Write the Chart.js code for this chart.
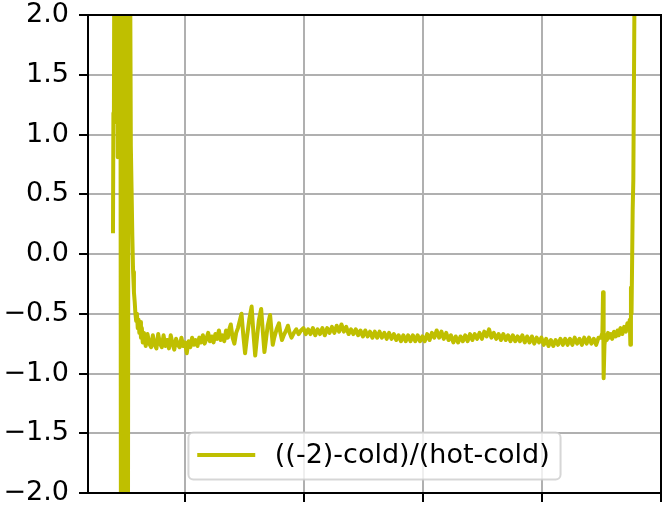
<!DOCTYPE html>
<html>
<head>
<meta charset="utf-8">
<script src="https://cdn.jsdelivr.net/npm/chart.js@4/dist/chart.umd.min.js"></script>
<style>
html,body{margin:0;padding:0;background:#fff;}
canvas{display:block;}
</style>
</head>
<body>
<canvas id="c" width="664" height="508"></canvas>
<script>
const seriesLabel = "((-2)-cold)/(hot-cold)";
const xTickValues = [200, 400, 600, 800, 1000];
const yTickStep = 0.5;

const sampleX = [
  79.0, 79.7, 80.5, 81.3, 82.6, 83.8, 85.0, 86.0, 86.8, 87.3,
  88.0, 88.8, 90.1, 91.4, 92.4, 93.4, 94.5, 95.5, 96.5, 97.5,
  98.5, 99.5, 100.2, 101.2, 102.2, 103.2, 104.2, 105.2, 106.2, 107.4,
  109.0, 110.2, 111.5, 112.8, 114.2, 115.5, 116.7, 118.0, 119.3, 120.6,
  122.0, 123.3, 124.6, 126.0, 127.5, 129.0, 131.0,
  134, 137, 140, 143, 146, 149, 152, 155, 158, 161,
  164, 167, 170, 173, 176, 179, 182, 185, 188, 191,
  194, 197, 200, 203, 206, 209, 212, 215, 218, 221,
  224, 227, 230, 233, 236, 239, 242, 245, 248, 251,
  254, 257, 260, 263, 266, 269, 272, 275, 277, 280,
  283, 286, 289, 292, 295, 298, 301, 304, 308, 312,
  315, 318, 321, 324, 328, 331, 333.5, 336, 339, 343,
  345, 347.5, 350, 354, 358, 360, 363, 366, 370, 373,
  376, 379, 383, 387, 391, 395,
  399, 403, 407, 411, 415, 419, 423, 427, 431, 435,
  439, 443, 447, 451, 455, 459, 463, 467, 471, 475,
  479, 483, 487, 491, 495, 499, 503, 507, 511, 515,
  519, 523, 527, 531, 535, 539, 543, 547, 551, 555,
  559, 563, 567, 571, 575, 579, 583, 587, 591, 595,
  599, 603, 607, 611, 615, 619, 623, 627, 631, 635,
  639, 643, 647, 651, 655, 659, 663, 667, 671, 675,
  679, 683, 687, 691, 695, 699, 703, 707, 711, 715,
  719, 723, 727, 731, 735, 739, 743, 747, 751, 755,
  759, 763, 767, 771, 775, 779, 783, 787, 791, 795,
  799, 803, 807, 811, 815, 819, 823, 827, 831, 835,
  839, 843, 847, 851, 855, 859, 863, 867, 871, 875,
  879, 883, 887, 891, 895, 899,
  901.5, 902.6, 903.6, 905, 907, 909, 911, 913, 916, 918,
  921, 924, 927, 929, 932, 935, 938, 941, 943.5, 946,
  947.5, 948.5, 949.5, 950.5, 952.4, 953.5, 955.0, 956.5
];

const ratioValues = [
  0.19, 1.18, 1.10, 2.7, 1.35, 2.8, 1.32, 2.8, 1.27, 0.81,
  1.27, 2.9, 1.3, 2.9, -2.8, 2.9, -1.8, 2.9, -2.9, 2.8,
  -2.6, 2.9, -1.3, 2.9, -2.9, 2.7, -2.2, 2.9, 1.0, 2.9,
  0.9, 0.55, 0.15, -0.15, -0.32, -0.40, -0.50, -0.56, -0.50, -0.62,
  -0.55, -0.66, -0.57, -0.70, -0.62, -0.74, -0.66,
  -0.77, -0.67, -0.75, -0.78, -0.68, -0.76, -0.79, -0.67, -0.75, -0.78,
  -0.68, -0.77, -0.72, -0.79, -0.68, -0.75, -0.80, -0.71, -0.76, -0.78,
  -0.70, -0.77, -0.74, -0.83, -0.73, -0.78, -0.70, -0.76, -0.72, -0.77,
  -0.70, -0.74, -0.68, -0.75, -0.71, -0.66, -0.73, -0.69, -0.74, -0.67,
  -0.71, -0.64, -0.72, -0.68, -0.73, -0.64, -0.70, -0.62, -0.59, -0.70,
  -0.75, -0.66, -0.62, -0.56, -0.50, -0.68, -0.83, -0.70, -0.55, -0.44,
  -0.66, -0.85, -0.70, -0.56, -0.46, -0.66, -0.82, -0.72, -0.60, -0.51,
  -0.62, -0.76, -0.70, -0.63, -0.58, -0.65, -0.72, -0.68, -0.64, -0.60,
  -0.66, -0.70, -0.66, -0.63, -0.67, -0.64,
  -0.62, -0.67, -0.63, -0.67, -0.62, -0.68, -0.63, -0.67, -0.62, -0.68,
  -0.62, -0.66, -0.61, -0.66, -0.60, -0.65, -0.59, -0.65, -0.61, -0.67,
  -0.63, -0.67, -0.63, -0.68, -0.64, -0.69, -0.64, -0.69, -0.65, -0.70,
  -0.65, -0.70, -0.65, -0.70, -0.66, -0.71, -0.66, -0.71, -0.67, -0.72,
  -0.68, -0.73, -0.68, -0.73, -0.68, -0.73, -0.68, -0.73, -0.68, -0.73,
  -0.69, -0.73, -0.67, -0.72, -0.66, -0.70, -0.64, -0.70, -0.65, -0.71,
  -0.66, -0.72, -0.68, -0.74, -0.69, -0.74, -0.69, -0.73, -0.68, -0.73,
  -0.67, -0.72, -0.67, -0.71, -0.66, -0.71, -0.65, -0.69, -0.63, -0.70,
  -0.66, -0.71, -0.67, -0.72, -0.67, -0.72, -0.68, -0.73, -0.68, -0.73,
  -0.69, -0.73, -0.68, -0.74, -0.69, -0.74, -0.69, -0.75, -0.70, -0.74,
  -0.70, -0.76, -0.71, -0.77, -0.72, -0.77, -0.72, -0.76, -0.71, -0.76,
  -0.71, -0.76, -0.71, -0.76, -0.70, -0.75, -0.71, -0.76, -0.70, -0.75,
  -0.70, -0.75, -0.71, -0.76, -0.70, -0.70,
  -0.66, -0.32, -1.04, -0.76, -0.68, -0.72, -0.66, -0.70, -0.67, -0.71,
  -0.65, -0.69, -0.64, -0.68, -0.62, -0.67, -0.61, -0.65, -0.58, -0.62,
  -0.55, -0.76, -0.28, -0.50, 0.37, 0.62, 1.8, 3.0
];

const FONT = "'DejaVu Sans', sans-serif";
const FONT_SIZE = 27;
const LINE_COLOR = '#bfbf00';

const framePlugin = {
  id: 'frame',
  afterDatasetsDraw(chart) {
    const a = chart.chartArea, ctx = chart.ctx;
    ctx.save();
    ctx.strokeStyle = '#000';
    ctx.lineWidth = 2;
    ctx.strokeRect(a.left, a.top, a.right - a.left, a.bottom - a.top);
    ctx.restore();
  }
};

const legendPlugin = {
  id: 'mplLegend',
  afterDraw(chart) {
    const a = chart.chartArea, ctx = chart.ctx;
    const fs = FONT_SIZE;
    ctx.save();
    ctx.font = fs + 'px ' + FONT;
    const tw = ctx.measureText(seriesLabel).width;
    const pad = 0.4 * fs, handle = 2 * fs, gap = 0.8 * fs;
    const w = pad + handle + gap + tw + pad, h = 47;
    const cx = (a.left + a.right) / 2;
    const x = cx - w / 2, y = a.bottom - 0.5 * fs - h;
    const r = 5;
    ctx.beginPath();
    ctx.moveTo(x + r, y);
    ctx.lineTo(x + w - r, y);
    ctx.arcTo(x + w, y, x + w, y + r, r);
    ctx.lineTo(x + w, y + h - r);
    ctx.arcTo(x + w, y + h, x + w - r, y + h, r);
    ctx.lineTo(x + r, y + h);
    ctx.arcTo(x, y + h, x, y + h - r, r);
    ctx.lineTo(x, y + r);
    ctx.arcTo(x, y, x + r, y, r);
    ctx.closePath();
    ctx.fillStyle = 'rgba(255,255,255,0.8)';
    ctx.fill();
    ctx.strokeStyle = 'rgba(204,204,204,0.8)';
    ctx.lineWidth = 2;
    ctx.stroke();
    const my = y + h / 2 - 1;
    ctx.beginPath();
    ctx.moveTo(x + pad, my);
    ctx.lineTo(x + pad + handle, my);
    ctx.strokeStyle = LINE_COLOR;
    ctx.lineWidth = 4;
    ctx.lineCap = 'square';
    ctx.stroke();
    ctx.fillStyle = '#000';
    ctx.textBaseline = 'middle';
    ctx.textAlign = 'left';
    ctx.fillText(seriesLabel, x + pad + handle + gap, my + 1);
    ctx.restore();
  }
};

new Chart(document.getElementById('c'), {
  type: 'line',
  data: {
    datasets: [{
      label: seriesLabel,
      data: sampleX.map((x, i) => ({ x: x, y: ratioValues[i] })),
      borderColor: LINE_COLOR,
      backgroundColor: LINE_COLOR,
      borderWidth: 4,
      borderJoinStyle: 'round',
      borderCapStyle: 'square',
      pointRadius: 0,
      tension: 0,
      fill: false,
      clip: 0
    }]
  },
  options: {
    responsive: false,
    animation: false,
    devicePixelRatio: 1,
    layout: { padding: { top: 15, right: 3, left: 0, bottom: 0 } },
    plugins: { legend: { display: false }, tooltip: { enabled: false } },
    scales: {
      x: {
        type: 'linear',
        min: 37,
        max: 1000,
        afterBuildTicks(scale) { scale.ticks = xTickValues.map(v => ({ value: v })); },
        afterFit(scale) { scale.height = 15; scale.paddingLeft = 0; scale.paddingRight = 0; },
        ticks: { display: false },
        border: { display: false },
        grid: { color: '#b0b0b0', lineWidth: 2, tickColor: '#000', tickLength: 9, tickWidth: 2, drawTicks: true }
      },
      y: {
        min: -2,
        max: 2,
        afterFit(scale) { scale.width = 88; scale.paddingTop = 0; scale.paddingBottom = 0; },
        ticks: {
          stepSize: yTickStep,
          color: '#000',
          padding: 10,
          font: { family: FONT, size: FONT_SIZE },
          callback: (v) => v.toFixed(1).replace('-', '\u2212')
        },
        border: { display: false },
        grid: { color: '#b0b0b0', lineWidth: 2, tickColor: '#000', tickLength: 9, tickWidth: 2 }
      }
    }
  },
  plugins: [framePlugin, legendPlugin]
});
</script>
</body>
</html>
